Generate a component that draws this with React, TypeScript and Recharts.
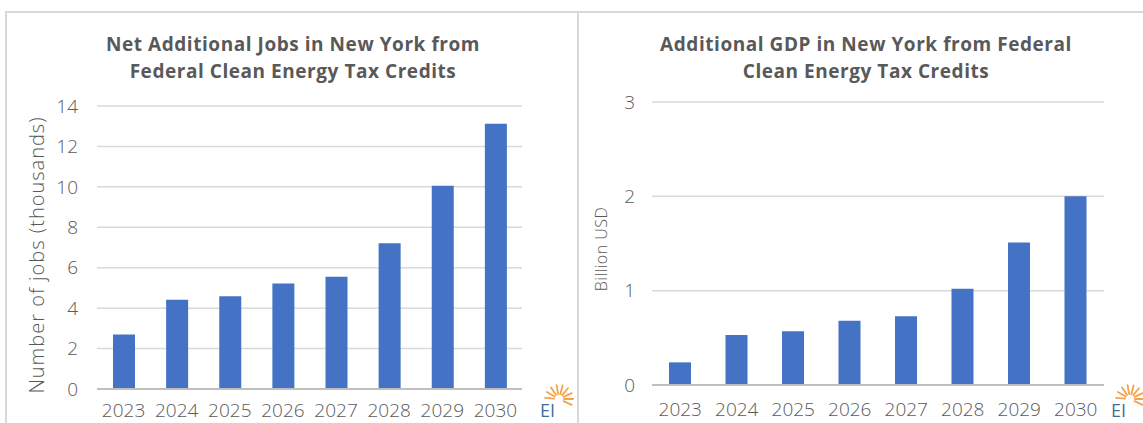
import React from 'react';
import { BarChart, Bar, XAxis, YAxis, CartesianGrid, Label } from 'recharts';

const years = ['2023', '2024', '2025', '2026', '2027', '2028', '2029', '2030'];
const jobsThousands = [2.69, 4.42, 4.59, 5.22, 5.55, 7.21, 10.05, 13.12];
const gdpBillion = [0.24, 0.53, 0.57, 0.68, 0.73, 1.02, 1.51, 2.0];
const jobsTicks = [0, 2, 4, 6, 8, 10, 12, 14];
const gdpTicks = [0, 1, 2, 3];

const jobsData = years.map((year, i) => ({ year, jobs: jobsThousands[i] }));
const gdpData = years.map((year, i) => ({ year, gdp: gdpBillion[i] }));

const TEXT = '#595959';
const FONT = '"Open Sans", Lato, sans-serif';

const RotatedLabel = ({ cx, cy, value, size, spacing }: { cx: number; cy: number; value: string; size: number; spacing: number }) => (
  <text
    transform={`translate(${cx}, ${cy}) rotate(-90)`}
    textAnchor="middle"
    dominantBaseline="central"
    fill={TEXT}
    fontSize={size}
    fontFamily={FONT}
    fontWeight={300}
    letterSpacing={spacing}
  >
    {value}
  </text>
);

// small EI sunburst mark in the corner of each panel
const Logo = ({ x, y }: { x: number; y: number }) => {
  const angles = [-175, -150, -125, -100, -75, -50, -25, 0, 25];
  return (
    <svg style={{ position: 'absolute', left: x - 20, top: y - 25, overflow: 'visible' }} width={40} height={45}>
      {angles.map((a, i) => {
        const r = (a * Math.PI) / 180;
        const cx = 23, cy = 24;
        return (
          <line
            key={i}
            x1={cx + Math.cos(r) * 5}
            y1={cy + Math.sin(r) * 5}
            x2={cx + Math.cos(r) * 14}
            y2={cy + Math.sin(r) * 14}
            stroke="#f7a24b"
            strokeWidth={1.8}
            strokeLinecap="round"
          />
        );
      })}
      <text x={4} y={42} fill="#3f6f96" fontSize={18} fontFamily={FONT}>EI</text>
    </svg>
  );
};

const titleStyle: React.CSSProperties = {
  position: 'absolute',
  top: 31,
  textAlign: 'center',
  color: TEXT,
  fontFamily: FONT,
  fontWeight: 700,
  fontSize: 19,
  letterSpacing: 0.55,
  lineHeight: '27px',
  whiteSpace: 'nowrap',
};

const tickStyle = { fill: TEXT, fontSize: 19, fontFamily: FONT, fontWeight: 300 };

export default function App() {
  return (
    <div style={{ position: 'absolute', left: 0, top: 0, width: 1143, height: 423, background: '#fff', overflow: 'hidden' }}>
      <div style={{ position: 'absolute', left: 5, top: 11, width: 570, height: 430, border: '2px solid #d9d9d9' }} />
      <div style={{ position: 'absolute', left: 577, top: 11, width: 580, height: 430, borderTop: '2px solid #d9d9d9' }} />

      <div style={{ ...titleStyle, left: 43, width: 500 }}>
        Net Additional Jobs in New York from<br />Federal Clean Energy Tax Credits
      </div>
      <div style={{ ...titleStyle, left: 616, width: 500 }}>
        Additional GDP in New York from Federal<br />Clean Energy Tax Credits
      </div>

      <div style={{ position: 'absolute', left: 0, top: 0 }}>
        <BarChart width={575} height={423} data={jobsData} margin={{ top: 106, right: 53, bottom: 4, left: 37 }}>
          <CartesianGrid vertical={false} stroke="#d9d9d9" strokeWidth={1.5} />
          <XAxis
            dataKey="year"
            height={30}
            tickLine={false}
            axisLine={{ stroke: '#bfbfbf', strokeWidth: 2 }}
            tickSize={0}
            tickMargin={15}
            tick={tickStyle}
          />
          <YAxis
            width={60}
            domain={[0, 14]}
            ticks={jobsTicks}
            tickLine={false}
            axisLine={false}
            tickSize={0}
            tickMargin={19}
            tick={tickStyle}
          >
            <Label content={() => <RotatedLabel cx={36} cy={255} value="Number of jobs (thousands)" size={20} spacing={1} />} />
          </YAxis>
          <Bar dataKey="jobs" fill="#4472c4" barSize={22} isAnimationActive={false} />
        </BarChart>
      </div>

      <div style={{ position: 'absolute', left: 577, top: 0 }}>
        <BarChart width={566} height={423} data={gdpData} margin={{ top: 102, right: 39, bottom: 8, left: 15 }}>
          <CartesianGrid vertical={false} stroke="#d9d9d9" strokeWidth={1.5} />
          <XAxis
            dataKey="year"
            height={30}
            tickLine={false}
            axisLine={{ stroke: '#bfbfbf', strokeWidth: 2 }}
            tickSize={0}
            tickMargin={18}
            tick={tickStyle}
          />
          <YAxis
            width={60}
            domain={[0, 3]}
            ticks={gdpTicks}
            tickLine={false}
            axisLine={false}
            tickSize={0}
            tickMargin={17}
            tick={tickStyle}
          >
            <Label content={() => <RotatedLabel cx={24} cy={249} value="Billion  USD" size={16} spacing={0.5} />} />
          </YAxis>
          <Bar dataKey="gdp" fill="#4472c4" barSize={22} isAnimationActive={false} />
        </BarChart>
      </div>

      <Logo x={556} y={400} />
      <Logo x={1127} y={400} />
    </div>
  );
}
